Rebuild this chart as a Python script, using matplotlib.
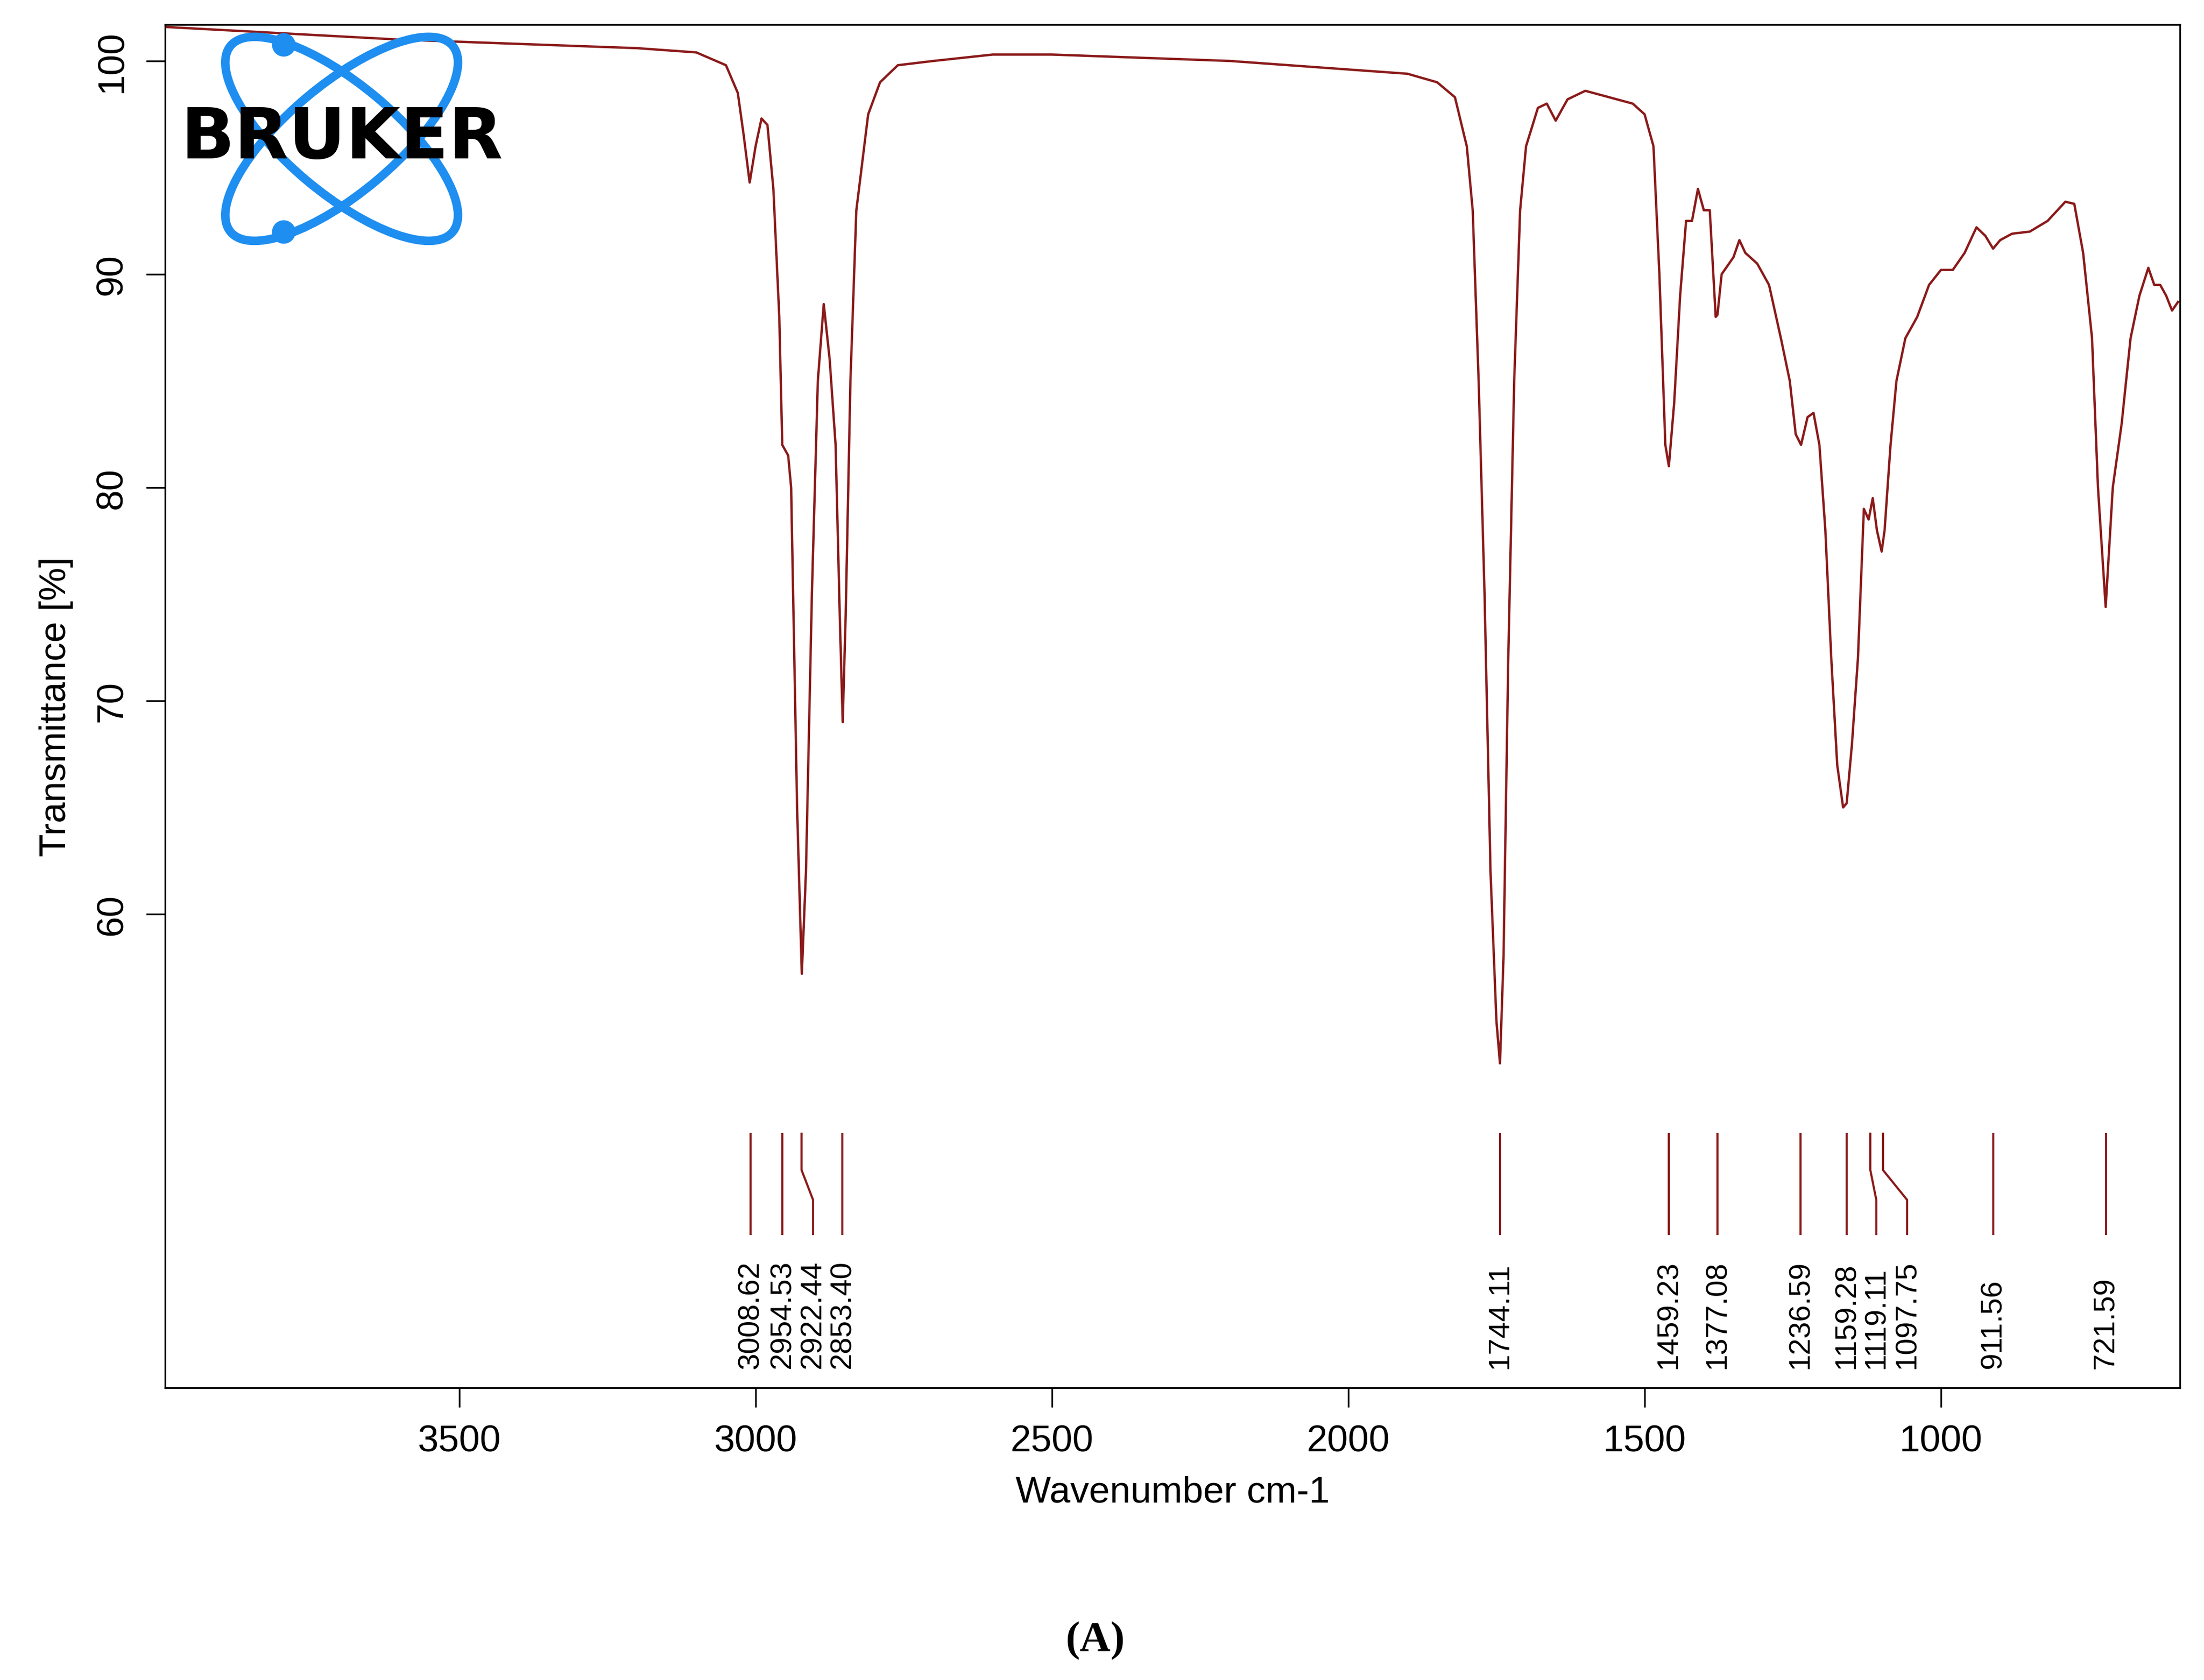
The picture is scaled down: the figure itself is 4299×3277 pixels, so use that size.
import numpy as np
import matplotlib.pyplot as plt
from matplotlib.patches import Ellipse

plt.rcParams['font.family'] = ['Liberation Sans', 'DejaVu Sans']

# spectrum
wavenumber = [4000, 3800, 3600, 3400, 3200, 3100, 3050, 3030, 3020, 3010, 3000, 2990, 2980,
              2970, 2960, 2955, 2945, 2940, 2930, 2922, 2915, 2905, 2895, 2885, 2875, 2865,
              2858, 2853, 2848, 2840, 2830, 2810, 2790, 2760, 2700, 2600, 2500, 2400, 2300,
              2200, 2100, 2000, 1900, 1850, 1820, 1800, 1790, 1780, 1770, 1760, 1750, 1744,
              1738, 1730, 1720, 1710, 1700, 1680, 1665, 1650, 1630, 1600, 1560, 1520, 1500,
              1485, 1475, 1465, 1459, 1450, 1440, 1430, 1420, 1410, 1400, 1390, 1380, 1377,
              1370, 1350, 1340, 1330, 1310, 1290, 1270, 1255, 1245, 1236, 1225, 1215, 1205,
              1195, 1185, 1175, 1165, 1159, 1150, 1140, 1130, 1122, 1115, 1108, 1100, 1095,
              1085, 1075, 1060, 1040, 1020, 1000, 980, 960, 940, 925, 912, 900, 880, 850,
              820, 790, 775, 760, 745, 735, 722, 710, 695, 680, 665, 650, 640, 630, 620,
              610, 600]
transmittance = [101.6, 101.3, 101.0, 100.8, 100.6, 100.4, 99.8, 98.5, 96.5, 94.3, 96.0, 97.3, 97.0,
                 94.0, 88.0, 82.0, 81.5, 80.0, 65.0, 57.2, 62.0, 75.0, 85.0, 88.6, 86.0, 82.0,
                 74.0, 69.0, 74.0, 85.0, 93.0, 97.5, 99.0, 99.8, 100.0, 100.3, 100.3, 100.2, 100.1,
                 100.0, 99.8, 99.6, 99.4, 99.0, 98.3, 96.0, 93.0, 85.0, 75.0, 62.0, 55.0, 53.0,
                 58.0, 72.0, 85.0, 93.0, 96.0, 97.8, 98.0, 97.2, 98.2, 98.6, 98.3, 98.0, 97.5,
                 96.0, 90.0, 82.0, 81.0, 84.0, 89.0, 92.5, 92.5, 94.0, 93.0, 93.0, 88.0, 88.1,
                 90.0, 90.8, 91.6, 91.0, 90.5, 89.5, 87.0, 85.0, 82.5, 82.0, 83.3, 83.5, 82.0,
                 78.0, 72.0, 67.0, 65.0, 65.2, 68.0, 72.0, 79.0, 78.5, 79.5, 78.0, 77.0, 78.0,
                 82.0, 85.0, 87.0, 88.0, 89.5, 90.2, 90.2, 91.0, 92.2, 91.8, 91.2, 91.6, 91.9, 92.0,
                 92.5, 93.4, 93.3, 91.0, 87.0, 80.0, 74.4, 80.0, 83.0, 87.0, 89.0, 90.3, 89.5, 89.5, 89.0,
                 88.3, 88.7]

peaks = [3008.62, 2954.53, 2922.44, 2853.40, 1744.11, 1459.23, 1377.08, 1236.59,
         1159.28, 1119.11, 1097.75, 911.56, 721.59]
label_pos = [3008.62, 2954.53, 2903.0, 2853.40, 1744.11, 1459.23, 1377.08, 1236.59,
             1159.28, 1109.0, 1057.0, 911.56, 721.59]

col = '#8b1a1a'
fig = plt.figure(figsize=(4299 / 300, 3278 / 300), dpi=300)
ax = fig.add_axes([0.075, 0.174, 0.914, 0.811])
ax.plot(wavenumber, transmittance, color=col, lw=1.1)

for p, lp in zip(peaks, label_pos):
    ax.plot([p, p, lp, lp], [49.7, 48.0, 46.6, 45.0], color=col, lw=1.0)
    ax.text(lp, 38.7, f"{p:.2f}", rotation=90, ha='center', va='bottom', fontsize=14)

ax.set_xlim(3996, 597)
ax.set_ylim(37.8, 101.7)
ax.set_xticks([3500, 3000, 2500, 2000, 1500, 1000])
ax.set_yticks([60, 70, 80, 90, 100])
ax.tick_params(labelsize=17.5, length=9, pad=8)
for t in ax.get_yticklabels():
    t.set_rotation(90)
    t.set_va('center')
ax.set_xlabel('Wavenumber cm-1', fontsize=17.5, labelpad=8)
ax.set_ylabel('Transmittance [%]', fontsize=17.5, labelpad=10)

# Bruker logo in its own little axes (pixel-like coords, equal aspect)
blue = '#1e8ef0'
lax = fig.add_axes([0.095, 0.855, 0.12, 0.125])
lax.set_xlim(0, 180)
lax.set_ylim(0, 145)
lax.set_aspect('equal')
lax.axis('off')
for ang in (40, -40):
    lax.add_patch(Ellipse((90, 72), 200, 75, angle=ang, fill=False, ec=blue, lw=4,
                          clip_on=False))
lax.plot([50, 50], [137, 8], 'o', color=blue, ms=10, clip_on=False)
lax.text(90, 72, 'BRUKER', ha='center', va='center', fontsize=33, fontweight='bold',
         family='DejaVu Sans', zorder=5, clip_on=False)

fig.text(0.497, 0.012, '(A)', fontsize=20, fontweight='bold', family='Liberation Serif',
         ha='center', va='bottom')
fig.savefig('out.png', dpi=300)
